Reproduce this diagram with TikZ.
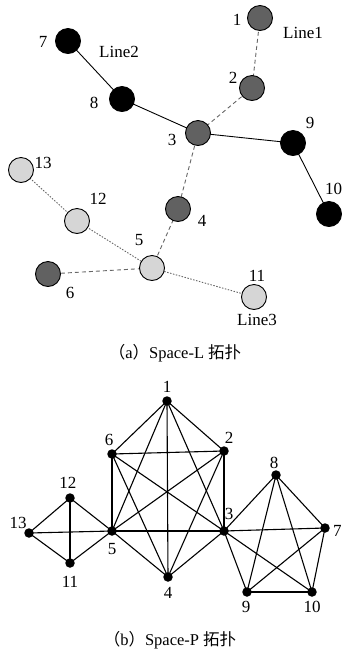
\documentclass[tikz,border=0pt]{standalone}
\usepackage{fontspec}
\setmainfont{Liberation Serif}
\newfontfamily\cjk{Noto Sans CJK SC}
\begin{document}
\begin{tikzpicture}[x=1pt,y=-1pt,
  st/.style={circle,draw=black,line width=0.9pt,minimum size=25pt,inner sep=0pt},
  lA/.style={st,fill=black!62},
  lB/.style={st,fill=black},
  lC/.style={st,fill=black!16},
  ln/.style={font=\fontsize{17}{17}\selectfont,inner sep=0pt},
  eA/.style={draw=black!60,line width=0.9pt,dash pattern=on 4pt off 3pt},
  eB/.style={draw=black,line width=0.9pt},
  eC/.style={draw=black!60,line width=0.9pt,dash pattern=on 1.5pt off 1.5pt},
  pt/.style={circle,fill=black,minimum size=9.5pt,inner sep=0pt},
  pe/.style={draw=black,line width=1.1pt},
  captext/.style={font=\fontsize{16.5}{16.5}\selectfont,inner sep=0pt}]
\useasboundingbox (0,0) rectangle (341,649);
% ---- Space-L ----
\coordinate (c1) at (260,18);
\coordinate (c2) at (252,88);
\coordinate (c3) at (198,133);
\coordinate (c4) at (178,209);
\coordinate (c5) at (152,268);
\coordinate (c6) at (48,274);
\coordinate (c7) at (68,41);
\coordinate (c8) at (122,99);
\coordinate (c9) at (293,143);
\coordinate (c10) at (329,214);
\coordinate (c11) at (254,297);
\coordinate (c12) at (77,221);
\coordinate (c13) at (21,170);
\path[eA] (c1) -- (c2) -- (c3) -- (c4) -- (c5) -- (c6);
\path[eB] (c7) -- (c8) -- (c3) -- (c9) -- (c10);
\path[eC] (c13) -- (c12) -- (c5) -- (c11);
\node[lA] (a1) at (c1) {};
\node[lA] (a2) at (c2) {};
\node[lA] (a3) at (c3) {};
\node[lA] (a4) at (c4) {};
\node[lC] (a5) at (c5) {};
\node[lA] (a6) at (c6) {};
\node[lB] (a7) at (c7) {};
\node[lB] (a8) at (c8) {};
\node[lB] (a9) at (c9) {};
\node[lB] (a10) at (c10) {};
\node[lC] (a11) at (c11) {};
\node[lC] (a12) at (c12) {};
\node[lC] (a13) at (c13) {};
\node[ln] (t1) at (237,20) {1};
\node[ln] (t2) at (233,78) {2};
\node[ln] (t3) at (172,140) {3};
\node[ln] (t4) at (202,221) {4};
\node[ln] (t5) at (139,240) {5};
\node[ln] (t6) at (70,293) {6};
\node[ln] (t7) at (43,42) {7};
\node[ln] (t8) at (94,103) {8};
\node[ln] (t9) at (310,123) {9};
\node[ln,anchor=west] (t10) at (325,189) {10};
\node[ln] (t11) at (257,276) {11};
\node[ln] (t12) at (98,199) {12};
\node[ln] (t13) at (43,163) {13};
\node[ln] (L1) at (303,33) {Line1};
\node[ln] (L2) at (119,52) {Line2};
\node[ln] (L3) at (257,320) {Line3};
\node[captext] (capa) at (175,353) {{\cjk （}a{\cjk ）}Space-L {\cjk 拓扑}};
% ---- Space-P ----
\node[pt] (p1) at (167,401) {};
\node[pt] (p2) at (224,451) {};
\node[pt] (p3) at (224,531) {};
\node[pt] (p4) at (168,577) {};
\node[pt] (p5) at (112,531) {};
\node[pt] (p6) at (112,454) {};
\node[pt] (p7) at (325,528) {};
\node[pt] (p8) at (276,475) {};
\node[pt] (p9) at (247,592) {};
\node[pt] (p10) at (312,592) {};
\node[pt] (p11) at (70,563) {};
\node[pt] (p12) at (70,498) {};
\node[pt] (p13) at (29,533) {};
\foreach \a/\b in {1/2,1/3,1/4,1/5,1/6,2/3,2/4,2/5,2/6,3/4,3/5,3/6,4/5,4/6,5/6,
  7/8,7/3,7/9,7/10,8/3,8/9,8/10,3/9,3/10,9/10,
  13/12,13/5,13/11,12/5,12/11,5/11}
  \path[pe] (p\a.center) -- (p\b.center);
\node[ln] (q1) at (167,387) {1};
\node[ln] (q2) at (229,438) {2};
\node[ln] (q3) at (229,514) {3};
\node[ln] (q4) at (168,593) {4};
\node[ln] (q5) at (112,549) {5};
\node[ln] (q6) at (109,440) {6};
\node[ln,anchor=west] (q7) at (333,531) {7};
\node[ln] (q8) at (274,463) {8};
\node[ln] (q9) at (246,607) {9};
\node[ln] (q10) at (312,607) {10};
\node[ln] (q11) at (70,582) {11};
\node[ln] (q12) at (68,483) {12};
\node[ln] (q13) at (18,523) {13};
\node[captext] (capb) at (170,640) {{\cjk （}b{\cjk ）}Space-P {\cjk 拓扑}};
\end{tikzpicture}
\end{document}
